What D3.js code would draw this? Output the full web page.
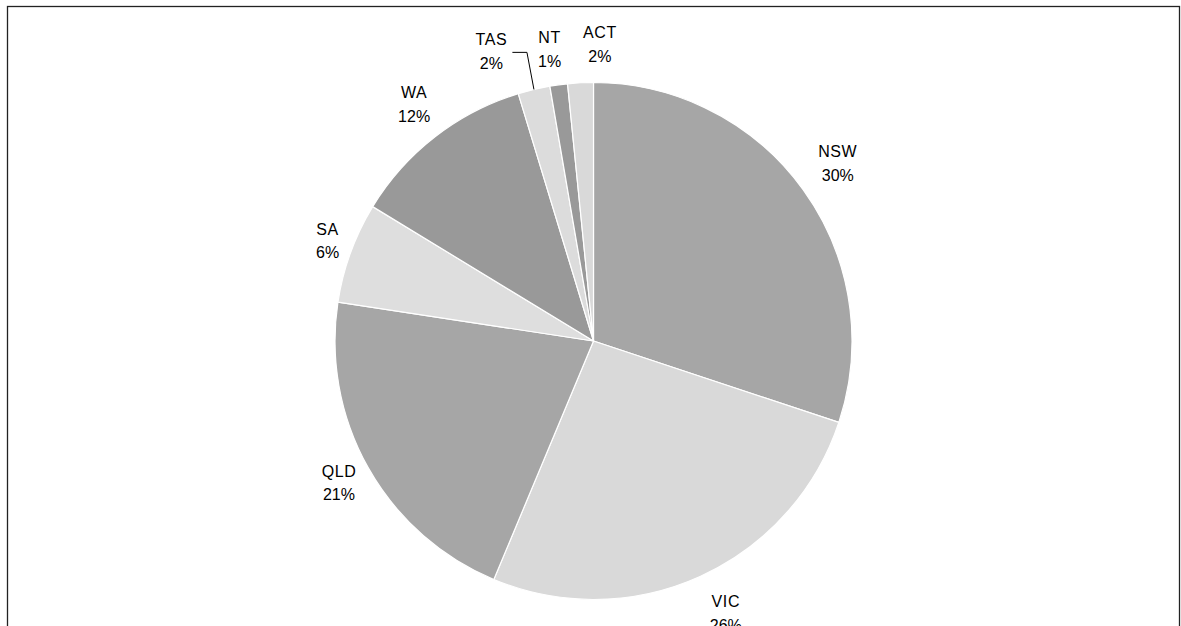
<!DOCTYPE html>
<html>
<head>
<meta charset="utf-8">
<script src="https://cdn.jsdelivr.net/npm/d3@7/dist/d3.min.js"></script>
<style>
  html, body { margin: 0; padding: 0; background: #fff; }
  svg { display: block; }
  text { font-family: "Liberation Sans", Arial, sans-serif; font-size: 16px; fill: #000; }
</style>
</head>
<body>
<svg id="chart" width="1181" height="626"></svg>
<script>
// Share of total by state / territory (per cent)
const states = ["NSW", "VIC", "QLD", "SA", "WA", "TAS", "NT", "ACT"];
const shares = [30.1, 26.2, 21.1, 6.3, 11.6, 2.0, 1.1, 1.6];
const sliceColors = ["#a6a6a6", "#d9d9d9", "#a6a6a6", "#dedede", "#999999", "#dcdcdc", "#999999", "#d9d9d9"];

const W = 1181, H = 626;
const cx = 593.5, cy = 341, R = 258.5;
const labelR = 300;
// small per-label shifts so the outside labels clear each other
const labelNudge = {
  NSW: [1, -2], VIC: [8, -1], QLD: [7, -5], SA: [16, 2.5],
  WA: [4.5, 0.5], TAS: [-33, 2], NT: [-3.5, 5.5], ACT: [21.5, 3]
};

const svg = d3.select("#chart");

// outer frame
svg.append("rect")
  .attr("x", 7.5).attr("y", 6.5)
  .attr("width", 1172).attr("height", 1000)
  .attr("fill", "none").attr("stroke", "#222").attr("stroke-width", 1.3);

const data = states.map((s, i) => ({ name: s, value: shares[i], color: sliceColors[i] }));
const total = d3.sum(data, d => d.value);

const pie = d3.pie().sort(null).value(d => d.value);
const arcs = pie(data);
const arc = d3.arc().innerRadius(0).outerRadius(R);

const g = svg.append("g").attr("transform", `translate(${cx},${cy})`);

g.selectAll("path.slice")
  .data(arcs)
  .join("path")
  .attr("class", "slice")
  .attr("d", arc)
  .attr("fill", d => d.data.color)
  .attr("stroke", "#fff")
  .attr("stroke-width", 1.2)
  .attr("stroke-linejoin", "round");

const mid = d => (d.startAngle + d.endAngle) / 2;
const polar = (a, r) => [r * Math.sin(a), -r * Math.cos(a)];

const labels = g.selectAll("g.lbl")
  .data(arcs)
  .join("g")
  .attr("class", "lbl")
  .attr("transform", d => {
    const [x, y] = polar(mid(d), labelR);
    const n = labelNudge[d.data.name];
    return `translate(${x + n[0]},${y + n[1]})`;
  });

labels.append("text")
  .attr("text-anchor", "middle")
  .attr("letter-spacing", "0.6px")
  .attr("y", -6)
  .text(d => d.data.name);

labels.append("text")
  .attr("text-anchor", "middle")
  .attr("y", 17.5)
  .text(d => Math.round(d.data.value / total * 100) + "%");

// leader line for the narrow TAS slice
const tas = arcs.find(d => d.data.name === "TAS");
const [tx, ty] = polar(mid(tas), labelR);
const tn = labelNudge.TAS;
const lx = tx + tn[0], ly = ty + tn[1];
const [ex, ey] = polar(mid(tas), R);
g.append("polyline")
  .attr("points", [[lx + 21, ly + 1.3], [ex - 7, ly + 1.3], [ex, ey]].map(p => p.join(",")).join(" "))
  .attr("fill", "none")
  .attr("stroke", "#000")
  .attr("stroke-width", 1);
</script>
</body>
</html>
